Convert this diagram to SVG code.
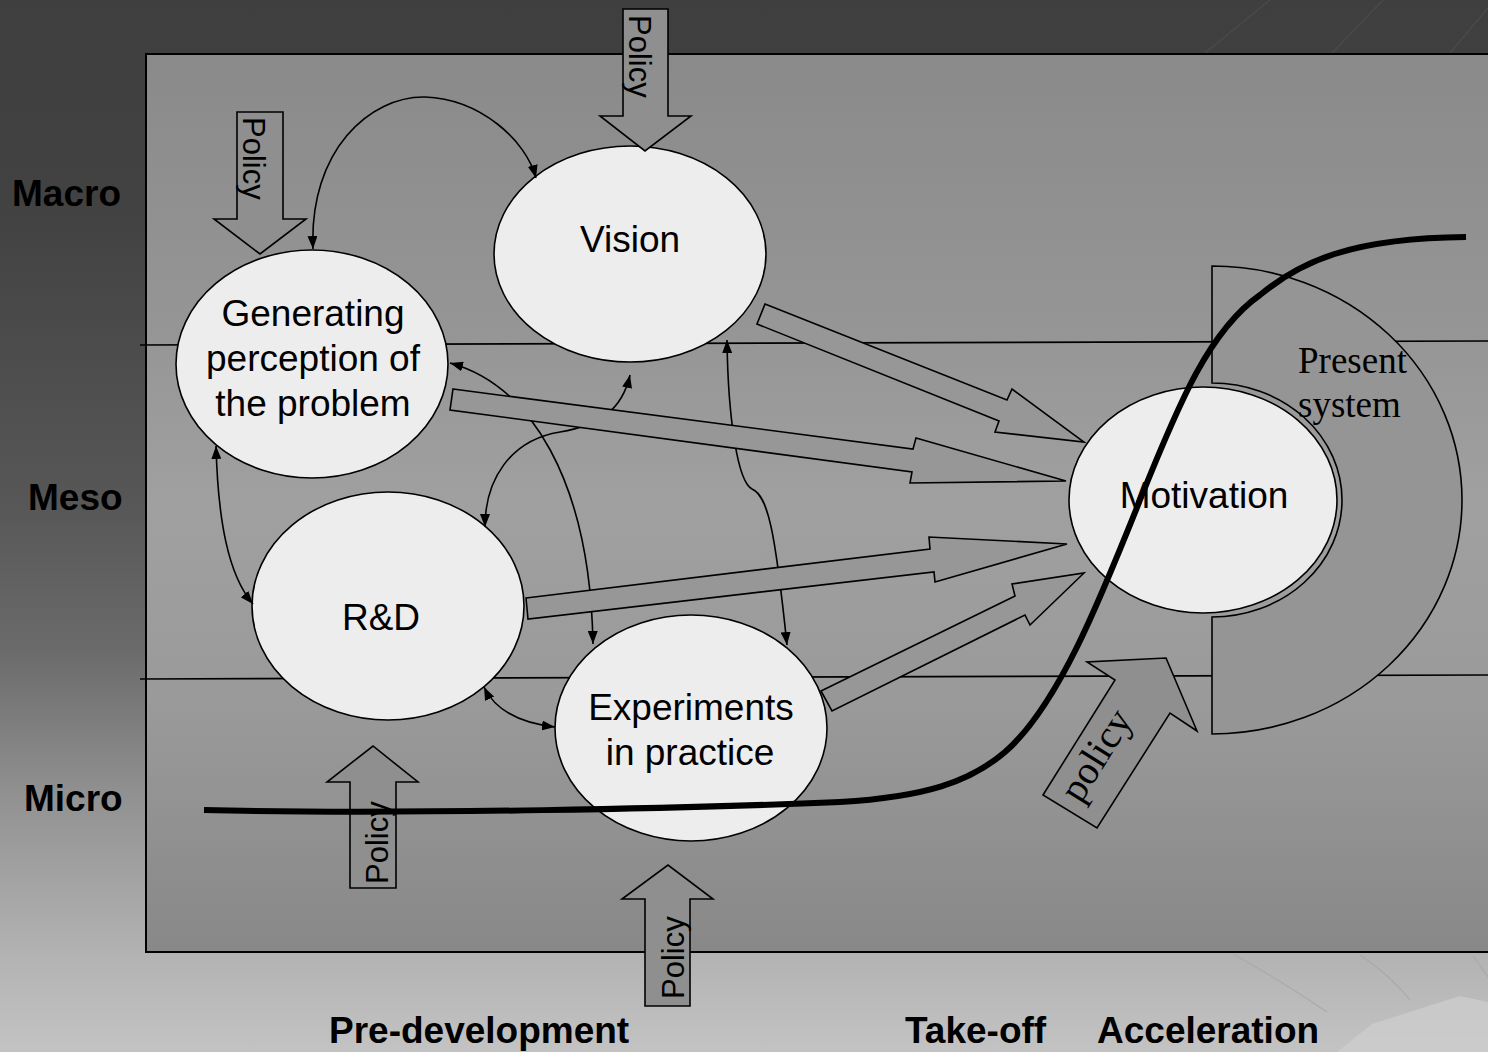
<svg xmlns="http://www.w3.org/2000/svg" width="1488" height="1052" viewBox="0 0 1488 1052">
<defs>
<linearGradient id="bg" x1="0" y1="0" x2="0" y2="1">
<stop offset="0" stop-color="#3f3f3f"/>
<stop offset="0.2" stop-color="#424242"/>
<stop offset="0.48" stop-color="#575757"/>
<stop offset="0.62" stop-color="#6b6b6b"/>
<stop offset="0.76" stop-color="#929292"/>
<stop offset="0.91" stop-color="#b3b3b3"/>
<stop offset="1" stop-color="#c3c3c3"/>
</linearGradient>
<linearGradient id="panel" gradientUnits="userSpaceOnUse" x1="0" y1="54" x2="0" y2="952">
<stop offset="0" stop-color="#8a8a8a"/>
<stop offset="0.3" stop-color="#959595"/>
<stop offset="0.5" stop-color="#a0a0a0"/>
<stop offset="0.72" stop-color="#9a9a9a"/>
<stop offset="1" stop-color="#888888"/>
</linearGradient>
<marker id="ah" viewBox="0 0 13 10" refX="13" refY="5" markerWidth="13" markerHeight="10" markerUnits="userSpaceOnUse" orient="auto-start-reverse">
<path d="M0,0 L13,5 L0,10 z" fill="#000"/>
</marker>
<style>
.node{fill:#ededed;stroke:#000;stroke-width:1.6}
.lbl{font-family:"Liberation Sans",Arial,sans-serif;font-size:37px;fill:#000;text-anchor:middle}
.axis{font-family:"Liberation Sans",Arial,sans-serif;font-size:37px;font-weight:bold;fill:#000}
.conn{fill:none;stroke:#000;stroke-width:1.6;marker-start:url(#ah);marker-end:url(#ah)}
.big{fill:#979797;stroke:#000;stroke-width:1.6;stroke-linejoin:miter}
.pol{fill:#8f8f8f;stroke:#000;stroke-width:1.6}
.poltxt{font-family:"Liberation Sans",Arial,sans-serif;font-size:31px;fill:#000}
.serif{font-family:"Liberation Serif","Times New Roman",serif;fill:#000}
.deco{fill:none;stroke-width:1.2}
</style>
</defs>

<rect x="0" y="0" width="1488" height="1052" fill="url(#bg)"/>
<g id="decoration">
<path class="deco" stroke="#4b4b4b" d="M1205,53 L1270,0 M1332,53 L1383,0 M1450,53 L1488,8"/>
<path class="deco" stroke="#a9a9a9" d="M1233,954 Q1280,980 1327,1012 M1360,955 Q1390,975 1410,1000 M1473,956 Q1480,965 1488,977"/>
<path d="M1337,1052 L1372,1024 L1460,996 L1488,1002 L1488,1052 Z" fill="#cfcfcf" opacity="0.7"/>
</g>

<rect id="panel" x="146" y="54" width="1360" height="898" fill="url(#panel)" stroke="#000" stroke-width="2"/>

<g id="level-lines" stroke="#000" stroke-width="1.6">
<line x1="140" y1="345" x2="1488" y2="341"/>
<line x1="140" y1="679" x2="1488" y2="675"/>
</g>

<g id="present-system">
<path d="M1212,266 A250,234 0 0 1 1212,734 L1212,617 A130,117 0 0 0 1212,383 Z" fill="#959595" stroke="#000" stroke-width="1.6"/>
<text class="serif" font-size="37" x="1298" y="373">Present</text>
<text class="serif" font-size="37" x="1298" y="417">system</text>
</g>

<g id="node-generating">
<ellipse class="node" cx="312" cy="364" rx="136" ry="114"/>
<text class="lbl" x="313" y="326">Generating</text>
<text class="lbl" x="313" y="371">perception of</text>
<text class="lbl" x="313" y="416">the problem</text>
</g>
<g id="node-vision">
<ellipse class="node" cx="630" cy="254" rx="136" ry="108"/>
<text class="lbl" x="630" y="252">Vision</text>
</g>
<g id="node-rd">
<ellipse class="node" cx="388" cy="606" rx="136" ry="114"/>
<text class="lbl" x="381" y="630">R&amp;D</text>
</g>
<g id="node-experiments">
<ellipse class="node" cx="691" cy="728" rx="136" ry="113"/>
<text class="lbl" x="691" y="720">Experiments</text>
<text class="lbl" x="690" y="765">in practice</text>
</g>
<g id="node-motivation">
<ellipse class="node" cx="1203" cy="500" rx="134" ry="113"/>
<text class="lbl" x="1204" y="508">Motivation</text>
</g>

<g id="connectors">
<path class="conn" d="M313,249 C309,150 370,96 425,97 C480,99 526,140 536,178"/>
<path class="conn" d="M450,363 C530,385 590,480 593,644"/>
<path class="conn" d="M630,375 C622,410 600,425 560,432 C510,440 485,480 485,527"/>
<path class="conn" d="M727,340 C728,420 738,482 752,489 C768,496 775,530 787,645"/>
<path class="conn" d="M216,446 C218,520 228,575 253,604"/>
<path class="conn" d="M484,687 C495,710 520,723 555,727"/>
<polygon class="big" points="765,304 1007,400 1012,389 1084,442 995,432 999,421 757,324"/>
<polygon class="big" points="453,389 913,449 916,438 1066,481 910,483 912,472 450,410"/>
<polygon class="big" points="526,598 930,549 929,537 1067,544 935,582 934,572 528,619"/>
<polygon class="big" points="821,691 1015,596 1012,584 1084,573 1030,625 1025,615 832,711"/>
</g>

<g id="policy-top-left">
<polygon class="pol" points="237,112 283,112 283,219 306,219 260,254 214,219 237,219"/>
<text class="poltxt" transform="translate(243,117) rotate(90)">Policy</text>
</g>
<g id="policy-top-middle">
<polygon class="pol" points="623,9 668,9 668,116 691,116 645,151 600,116 623,116"/>
<text class="poltxt" transform="translate(629,15) rotate(90)">Policy</text>
</g>
<g id="policy-bottom-left">
<polygon class="pol" points="350,888 396,888 396,782 418,782 373,746 327,782 350,782"/>
<text class="poltxt" transform="translate(388,884) rotate(-90)">Policy</text>
</g>
<g id="policy-bottom-middle">
<polygon class="pol" points="645,1006 690,1006 690,899 713,899 668,865 622,899 645,899"/>
<text class="poltxt" transform="translate(684,999) rotate(-90)">Policy</text>
</g>
<g id="policy-diagonal">
<polygon class="pol" points="1043,795 1115,680 1087,662 1166,658 1197,731 1170,713 1097,828"/>
<text class="serif" font-size="40" text-anchor="middle" transform="translate(1107,762) rotate(-58)">policy</text>
</g>

<path id="s-curve" d="M204,810 C400,815 700,808 840,802 C925,797 970,782 1005,752 C1058,706 1100,600 1140,500 C1180,400 1210,330 1260,295 C1300,262 1350,238 1466,237" fill="none" stroke="#000" stroke-width="6"/>

<g id="axis-labels">
<text class="axis" x="12" y="206">Macro</text>
<text class="axis" x="28" y="510">Meso</text>
<text class="axis" x="24" y="811">Micro</text>
<text class="axis" x="329" y="1043">Pre-development</text>
<text class="axis" x="905" y="1043">Take-off</text>
<text class="axis" x="1097" y="1043">Acceleration</text>
</g>
</svg>
